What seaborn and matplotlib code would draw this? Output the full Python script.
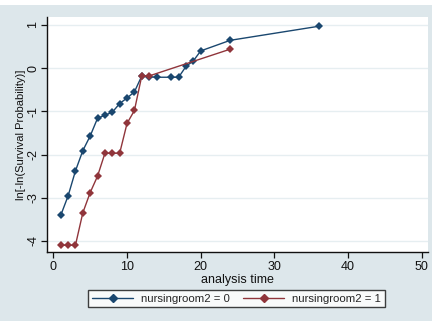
import numpy as np
import pandas as pd
import matplotlib
matplotlib.use("Agg")
import matplotlib.pyplot as plt
from matplotlib.lines import Line2D
from matplotlib.patches import Rectangle
import seaborn as sns

# Log-log survival estimates by group
time_g0 = [1, 2, 3, 4, 5, 6, 7, 8, 9, 10, 11, 12, 13, 14, 16, 17, 18, 19, 20, 24, 36]
lnln_g0 = [-3.41, -2.96, -2.38, -1.91, -1.57, -1.16, -1.09, -1.02, -0.82, -0.69,
           -0.55, -0.18, -0.20, -0.21, -0.21, -0.21, 0.04, 0.17, 0.40, 0.645, 0.97]
time_g1 = [1, 2, 3, 4, 5, 6, 7, 8, 9, 10, 11, 12, 13, 24]
lnln_g1 = [-4.10, -4.10, -4.10, -3.35, -2.88, -2.50, -1.97, -1.97, -1.97, -1.28,
           -0.98, -0.18, -0.18, 0.44]
group_labels = ["nursingroom2 = 0", "nursingroom2 = 1"]
x_ticks = [0, 10, 20, 30, 40, 50]
y_ticks = [1, 0, -1, -2, -3, -4]

df = pd.concat([
    pd.DataFrame({"time": time_g0, "lnln": lnln_g0, "group": group_labels[0]}),
    pd.DataFrame({"time": time_g1, "lnln": lnln_g1, "group": group_labels[1]}),
], ignore_index=True)

sns.set_theme(style="white")
plt.rcParams["font.family"] = ["Liberation Sans", "DejaVu Sans"]

bg = "#dde7eb"
grid_c = "#e6eef1"
colors = {group_labels[0]: "#1a476f", group_labels[1]: "#90353b"}

fig = plt.figure(figsize=(4.32, 3.21), dpi=100)
fig.patch.set_facecolor("white")
fig.patches.append(Rectangle((0.0, 0.0), 1.0, 1 - 5 / 321, transform=fig.transFigure,
                             facecolor=bg, edgecolor="none", zorder=-10))

ax = fig.add_axes([46.7 / 432, 1 - 251.7 / 321, (427.7 - 46.7) / 432, (251.7 - 17) / 321])
ax.set_facecolor("white")

sns.lineplot(data=df, x="time", y="lnln", hue="group", palette=colors,
             marker="D", markersize=4.2, markeredgewidth=0, linewidth=1.0,
             estimator=None, sort=True, legend=False, ax=ax)

ax.set_xlim(-0.9, 50.8)
ax.set_ylim(-4.25, 1.185)
ax.set_xticks(x_ticks)
ax.set_yticks(y_ticks)
ax.set_yticklabels([str(v) for v in y_ticks], rotation=90, va="center")
for yv in y_ticks:
    ax.axhline(yv, color=grid_c, linewidth=1.0, zorder=0)

for s in ["top", "right"]:
    ax.spines[s].set_visible(False)
for s in ["left", "bottom"]:
    ax.spines[s].set_color("#111111")
    ax.spines[s].set_linewidth(1.0)

ax.tick_params(axis="both", direction="out", length=4, width=0.9, color="#111111",
               labelsize=9, labelcolor="#111111", left=True, bottom=True)
ax.tick_params(axis="x", pad=3.0)
ax.tick_params(axis="y", pad=1.5)

ax.set_xlabel("analysis time", fontsize=9, color="#111111", labelpad=0.5)
ax.set_ylabel("ln[-ln(Survival Probability)]", fontsize=8, color="#111111", labelpad=1)

handles = [Line2D([0], [0], color=colors[g], marker="D", markersize=4, linewidth=1.0)
           for g in group_labels]
leg = fig.legend(handles, group_labels, loc="center", ncol=2,
                 bbox_to_anchor=(236.5 / 432, 1 - 298.5 / 321), frameon=True,
                 fancybox=False, fontsize=8.2, handlelength=3.6, numpoints=1,
                 columnspacing=1.15, handletextpad=0.7, borderpad=0.35,
                 borderaxespad=0.0)
leg.get_frame().set_edgecolor("#111111")
leg.get_frame().set_linewidth(1.0)
leg.get_frame().set_facecolor("white")

fig.savefig("out.png", dpi=100, facecolor=fig.get_facecolor())
